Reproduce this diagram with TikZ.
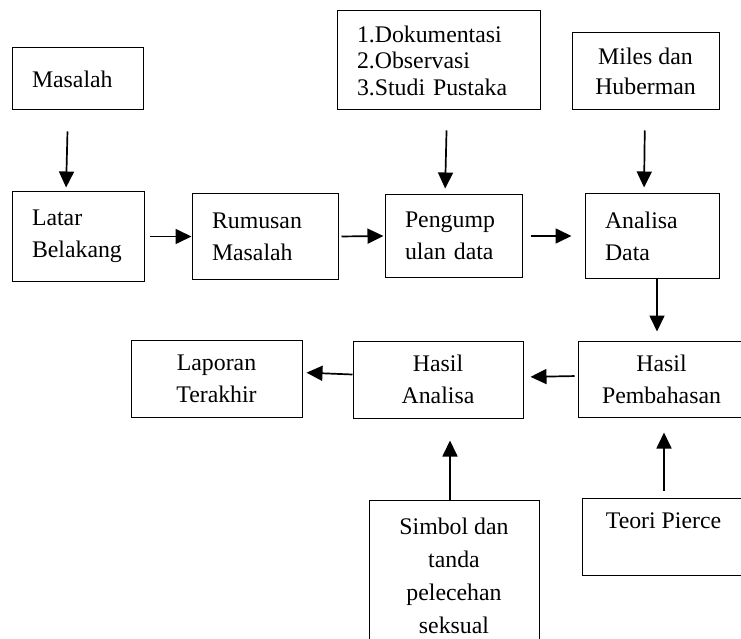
\documentclass[tikz,border=0pt]{standalone}
\usepackage{fontspec}
\setmainfont{Liberation Serif}
\usetikzlibrary{arrows.meta}
\begin{document}
\begin{tikzpicture}[x=1pt,y=-1pt,
  every node/.style={font=\fontsize{23.8}{32}\selectfont},
  boxl/.style={draw, line width=1pt, align=left, inner ysep=0pt, inner xsep=20pt, anchor=center},
  boxc/.style={draw, line width=1pt, align=center, inner sep=0pt, anchor=center},
  arr/.style={line width=1.7pt, -{Triangle[length=16pt,width=15pt]}}]
\useasboundingbox (0,0) rectangle (741,639);
\clip (0,0) rectangle (741,639);
% boxes
\node[boxl, text width=91pt, minimum height=62pt] (masalah) at (77.5,79) {Masalah};
\node[boxl, text width=92pt, minimum height=89pt] (latar) at (78,236.5) {Latar\\Belakang};
\node[boxl, text width=106pt, minimum height=85pt] (rumusan) at (265,236.5) {Rumusan\\Masalah};
\node[boxl, text width=163pt, minimum height=99pt, font=\fontsize{23.8}{26.5}\selectfont] (dok) at (438.5,60.5) {1.Dokumentasi\\2.Observasi\\3.Studi Pustaka};
\node[boxc, minimum width=147pt, minimum height=77pt, font=\fontsize{23.8}{30}\selectfont] (miles) at (645.5,71.5) {Miles dan\\Huberman};
\node[boxl, text width=97pt, minimum height=82pt] (pengump) at (453.5,236) {Pengump\\ulan data};
\node[boxl, text width=94pt, minimum height=84pt] (analisa) at (652,236) {Analisa\\Data};
\node[boxc, minimum width=170pt, minimum height=77pt] (hasilanalisa) at (438,379.5) {Hasil\\Analisa};
\node[boxc, minimum width=167pt, minimum height=76pt] (hasilpemb) at (661.5,379) {Hasil\\Pembahasan};
\node[boxc, minimum width=171pt, minimum height=77pt] (laporan) at (216.5,378.5) {Laporan\\Terakhir};
\node[boxc, minimum width=170pt, minimum height=152pt, font=\fontsize{23.8}{33}\selectfont] (simbol) at (454,576) {Simbol dan\\tanda\\pelecehan\\seksual};
\node[boxc, minimum width=163pt, minimum height=77pt] (teori) at (663.5,536.5) {Teori Pierce\\~};
% arrows
\draw[arr, shorten <=21pt, shorten >=4pt] ([xshift=-9.5pt]masalah.south) -- ([xshift=-12pt]latar.north);
\draw[arr, shorten <=5pt] (latar.east) -- (rumusan.west);
\draw[arr, shorten <=3pt, shorten >=1pt] (rumusan.east) -- (pengump.west);
\draw[arr, shorten <=8pt, shorten >=13pt] (pengump.east) -- (analisa.west);
\draw[arr, shorten <=20pt, shorten >=6pt] ([xshift=8.5pt]dok.south) -- ([xshift=-8.5pt]pengump.north);
\draw[arr, shorten <=20pt, shorten >=6pt] ([xshift=-0.5pt]miles.south) -- ([xshift=-8pt]analisa.north);
\draw[arr, shorten >=9pt] ([xshift=5pt]analisa.south) -- ([xshift=-4.5pt]hasilpemb.north);
\draw[arr, shorten <=3pt, shorten >=7pt] ([yshift=3pt]hasilpemb.west) -- ([yshift=2.5pt]hasilanalisa.east);
\draw[arr, shorten >=4pt] ([yshift=5pt]hasilanalisa.west) -- ([yshift=6pt]laporan.east);
\draw[arr, shorten >=22pt] ([xshift=-4pt]simbol.north) -- ([xshift=12pt]hasilanalisa.south);
\draw[arr, shorten <=7pt, shorten >=15pt] ([xshift=0.5pt]teori.north) -- ([xshift=2.5pt]hasilpemb.south);
\end{tikzpicture}
\end{document}
